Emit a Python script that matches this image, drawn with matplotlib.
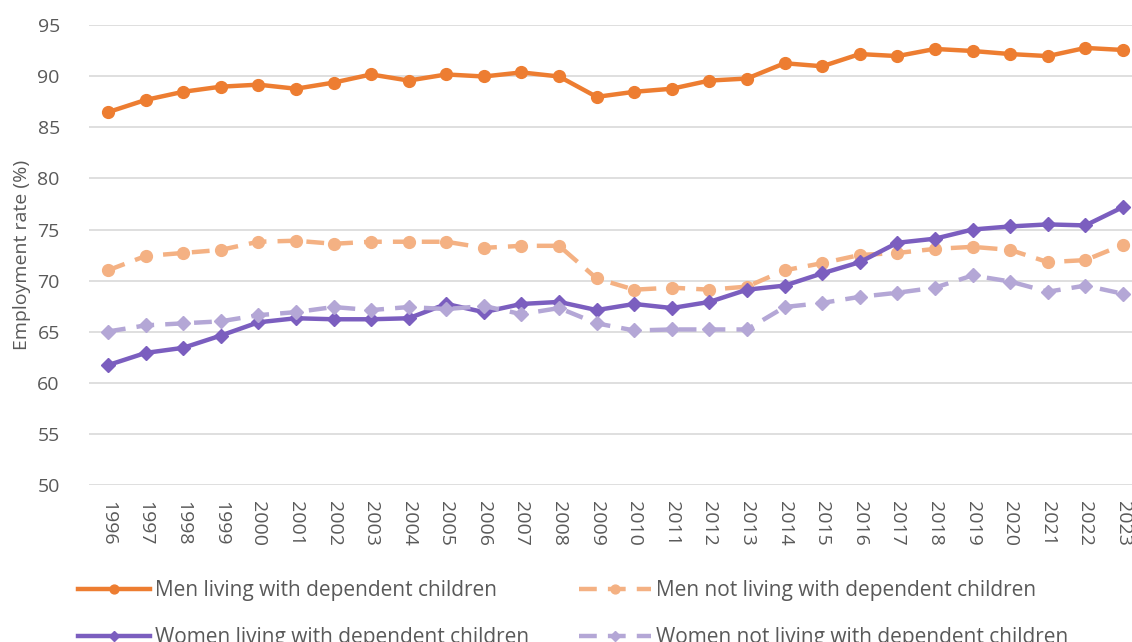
import matplotlib
matplotlib.use("Agg")
import matplotlib.pyplot as plt

# employment rates
years = [str(y) for y in range(1996, 2024)]
men_with = [86.5, 87.7, 88.5, 89.0, 89.2, 88.8, 89.4, 90.2, 89.6, 90.2, 90.0, 90.4, 90.0, 88.0,
            88.5, 88.8, 89.6, 89.8, 91.3, 91.0, 92.2, 92.0, 92.7, 92.5, 92.2, 92.0, 92.8, 92.6]
men_without = [71.0, 72.4, 72.7, 73.0, 73.8, 73.9, 73.6, 73.8, 73.8, 73.8, 73.2, 73.4, 73.4, 70.2,
               69.1, 69.3, 69.1, 69.4, 71.0, 71.7, 72.5, 72.7, 73.1, 73.3, 73.0, 71.8, 72.0, 73.5]
women_with = [61.7, 62.9, 63.4, 64.6, 65.9, 66.3, 66.2, 66.2, 66.3, 67.7, 66.9, 67.7, 67.9, 67.1,
              67.7, 67.3, 67.9, 69.1, 69.5, 70.7, 71.8, 73.7, 74.1, 75.0, 75.3, 75.5, 75.4, 77.2]
women_without = [65.0, 65.6, 65.8, 66.0, 66.6, 66.9, 67.4, 67.1, 67.4, 67.2, 67.5, 66.7, 67.3, 65.8,
                 65.1, 65.2, 65.2, 65.2, 67.4, 67.8, 68.4, 68.8, 69.3, 70.5, 69.9, 68.9, 69.5, 68.7]

labels = ["Men living with dependent children", "Men not living with dependent children",
          "Women living with dependent children", "Women not living with dependent children"]
colors = ["#ED7D31", "#F4B183", "#7B5EBF", "#B4A7D6"]

plt.rcParams['font.family'] = ['Open Sans', 'DejaVu Sans']
txt = "#595959"

fig = plt.figure(figsize=(11.32, 6.42), dpi=100)
ax = fig.add_axes([0.0786, 0.2453, 0.9214, 0.715])

x = list(range(len(years)))
lw = 3.2
h1, = ax.plot(x, men_with, color=colors[0], lw=lw, marker='o', ms=8.5, label=labels[0])
h2, = ax.plot(x, men_without, color=colors[1], lw=lw, marker='o', ms=8.5,
              dashes=(4, 2.5), label=labels[1])
h3, = ax.plot(x, women_with, color=colors[2], lw=lw, marker='D', ms=7, label=labels[2])
h4, = ax.plot(x, women_without, color=colors[3], lw=lw, marker='D', ms=7,
              dashes=(4, 2.5), label=labels[3])

ax.set_ylim(50, 95)
ax.set_yticks(range(50, 96, 5))
ax.set_xlim(-0.505, 27.24)
ax.set_xticks(x)
ax.set_xticklabels(years, rotation=-90)
ax.grid(axis='y', color='#D9D9D9', lw=1.2)
ax.set_axisbelow(True)
for s in ax.spines.values():
    s.set_visible(False)
ax.tick_params(axis='both', length=0, labelsize=14, colors=txt)
ax.tick_params(axis='y', pad=21)
ax.tick_params(axis='x', pad=12)
ax.set_ylabel("Employment rate (%)", fontsize=14, color=txt)
ax.yaxis.set_label_coords(-0.056, 0.5)

fig.legend([h1, h3, h2, h4], [labels[0], labels[2], labels[1], labels[3]],
           ncol=2, loc='upper left', bbox_to_anchor=(0.052, 0.126),
           frameon=False, fontsize=15, labelcolor=txt, handlelength=3.46,
           handletextpad=0.25, columnspacing=2.4, labelspacing=1.25, markerscale=0.75)

fig.savefig("out.png", dpi=100)
